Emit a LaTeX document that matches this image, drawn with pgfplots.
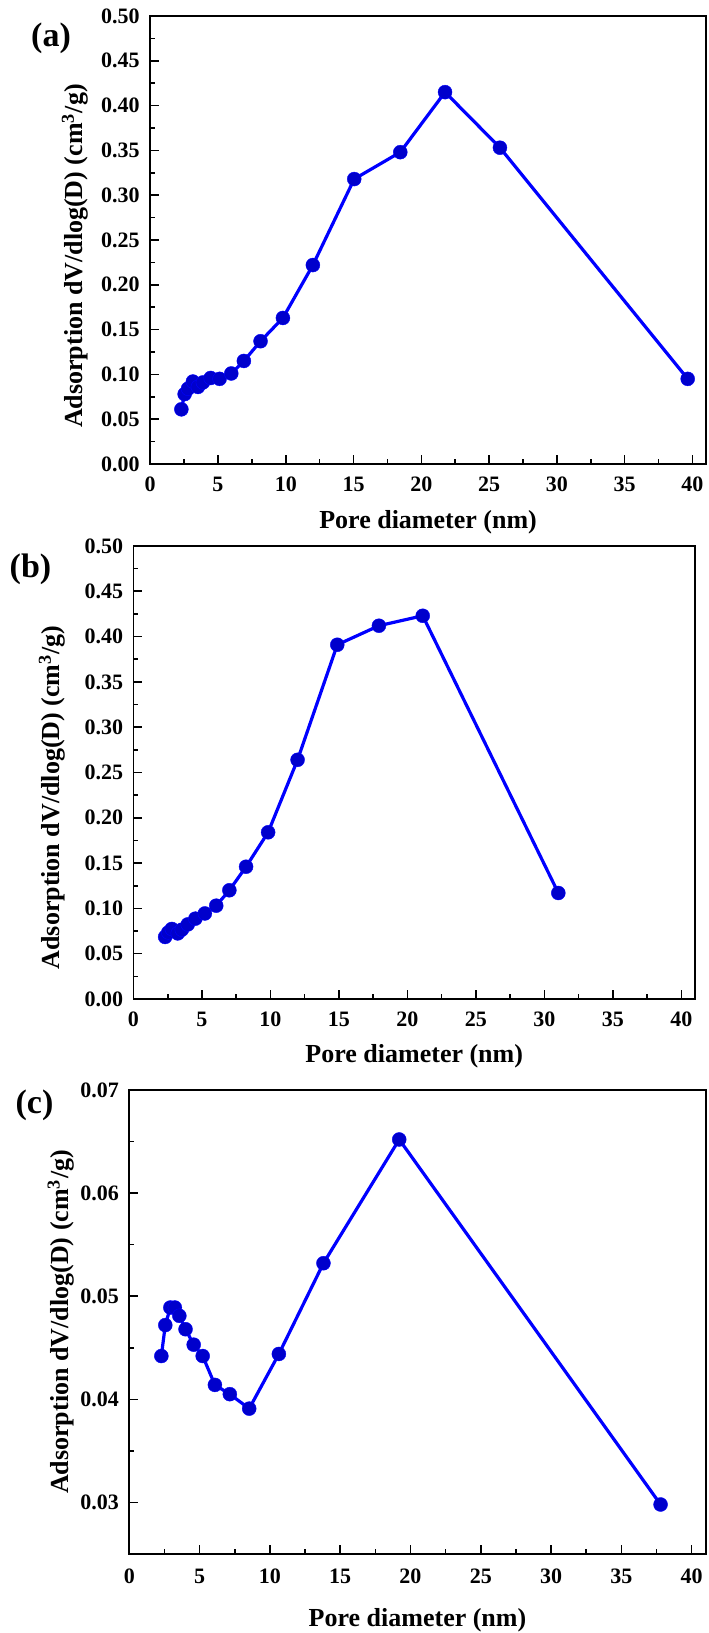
\documentclass[border=0pt]{standalone}
\usepackage{fontspec}
\setmainfont{Liberation Serif}
\usepackage{pgfplots}
\pgfplotsset{compat=1.18}

\pgfplotsset{
  psd/.style={
    scale only axis,
    anchor=south west,
    xmin=0, xmax=41,
    xtick={0,5,...,40},
    minor x tick num=1,
    minor y tick num=1,
    xtick pos=bottom, ytick pos=left,
    tick align=inside,
    major tick length=4.5pt, minor tick length=2.5pt,
    axis line style={line width=0.9pt},
    every tick/.style={black, line width=0.8pt},
    tick label style={font=\fontsize{11}{13}\selectfont\bfseries},
    /pgf/number format/assume math mode=true,
    scaled y ticks=false,
    yticklabel style={/pgf/number format/fixed, /pgf/number format/fixed zerofill, /pgf/number format/precision=2, xshift=-1.7pt},
    xticklabel style={/pgf/number format/fixed, /pgf/number format/precision=0},
    label style={font=\fontsize{13}{15}\selectfont\bfseries},
    xlabel={Pore diameter (nm)},
    ylabel={Adsorption dV/dlog(D) (cm\textsuperscript{3}/g)},
    every axis plot/.append style={blue, line width=1.6pt, mark=ball, mark size=3.5pt,
      mark options={ball color=blue, line width=0.2pt}},
  }
}

\begin{document}
\begin{tikzpicture}
\useasboundingbox (0,0) rectangle (354pt,816.5pt);

% (a)
\begin{axis}[psd,
  at={(75.1pt,584.5pt)}, width=277.9pt, height=224pt,
  ymin=0, ymax=0.5, ytick={0,0.05,...,0.5},
  xticklabel style={yshift=-3pt},
  xlabel style={at={(axis description cs:0.5,-0.103)}, anchor=north, inner sep=0pt},
  ylabel style={at={(axis description cs:-0.135,0.464)}, anchor=center, rotate=0, inner sep=0pt},
]
\addplot coordinates {
(2.30,0.061) (2.54,0.078) (2.79,0.084) (3.15,0.092) (3.52,0.086)
(3.89,0.091) (4.46,0.096) (5.12,0.095) (5.98,0.101) (6.91,0.115)
(8.14,0.137) (9.79,0.163) (12.0,0.222) (15.05,0.318) (18.45,0.348)
(21.75,0.415) (25.8,0.353) (39.65,0.095)
};
\end{axis}

% (b)
\begin{axis}[psd,
  at={(66.75pt,317pt)}, width=280.75pt, height=226.5pt,
  ymin=0, ymax=0.5, ytick={0,0.05,...,0.5},
  xticklabel style={yshift=-3pt},
  xlabel style={at={(axis description cs:0.5,-0.099)}, anchor=north, inner sep=0pt},
  ylabel style={at={(axis description cs:-0.145,0.445)}, anchor=center, rotate=0, inner sep=0pt},
]
\addplot coordinates {
(2.31,0.0685) (2.54,0.0735) (2.80,0.0773) (3.23,0.0724) (3.53,0.0765)
(3.96,0.0823) (4.52,0.0887) (5.21,0.0944) (6.04,0.103) (7.00,0.120)
(8.22,0.146) (9.83,0.184) (11.98,0.264) (14.88,0.391) (17.92,0.412)
(21.12,0.423) (31.02,0.117)
};
\end{axis}

% (c)
\begin{axis}[psd,
  at={(64.65pt,39.5pt)}, width=288.2pt, height=232pt,
  ymin=0.025, ymax=0.07, ytick={0.03,0.04,0.05,0.06,0.07},
  xticklabel style={yshift=-4pt},
  xlabel style={at={(axis description cs:0.5,-0.116)}, anchor=north, inner sep=0pt},
  ylabel style={at={(axis description cs:-0.119,0.5)}, anchor=center, rotate=0, inner sep=0pt},
]
\addplot coordinates {
(2.28,0.0442) (2.56,0.0472) (2.92,0.0489) (3.24,0.0489) (3.56,0.0481)
(4.00,0.0468) (4.58,0.0453) (5.22,0.0442) (6.09,0.0414) (7.15,0.0405)
(8.53,0.0391) (10.64,0.0444) (13.81,0.0532) (19.20,0.0652) (37.79,0.0298)
};
\end{axis}

\node[font=\fontsize{17}{19}\selectfont\bfseries, inner sep=0pt] at (25.5pt,797.5pt) {(a)};
\node[font=\fontsize{17}{19}\selectfont\bfseries, inner sep=0pt] at (15.25pt,532pt) {(b)};
\node[font=\fontsize{17}{19}\selectfont\bfseries, inner sep=0pt] at (17.25pt,264pt) {(c)};
\end{tikzpicture}
\end{document}
